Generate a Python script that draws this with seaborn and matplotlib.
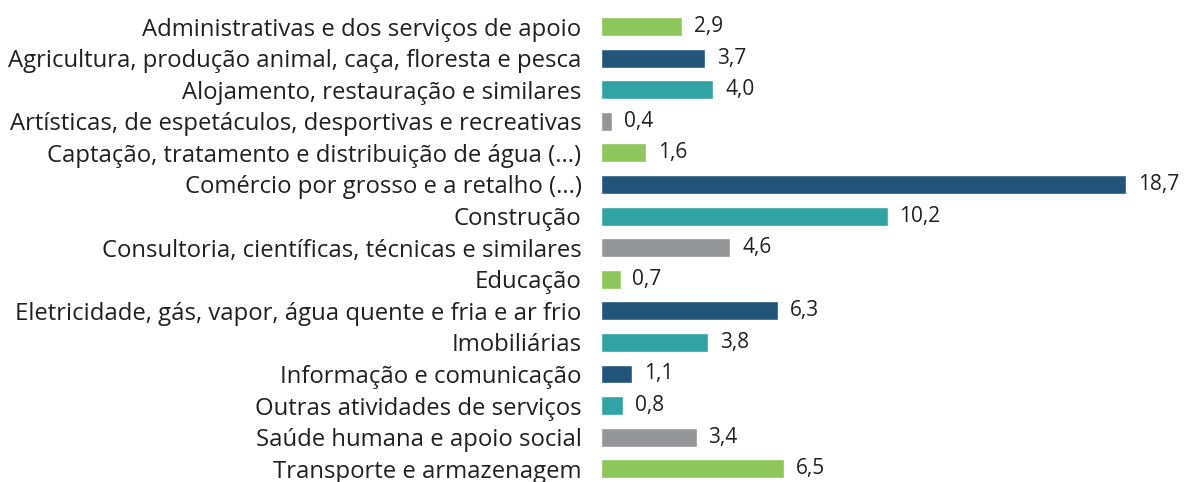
import pandas as pd
import matplotlib.pyplot as plt
import seaborn as sns

# categories and values (%)
categorias = [
    "Administrativas e dos serviços de apoio",
    "Agricultura, produção animal, caça, floresta e pesca",
    "Alojamento, restauração e similares",
    "Artísticas, de espetáculos, desportivas e recreativas",
    "Captação, tratamento e distribuição de água (...)",
    "Comércio por grosso e a retalho (...)",
    "Construção",
    "Consultoria, científicas, técnicas e similares",
    "Educação",
    "Eletricidade, gás, vapor, água quente e fria e ar frio",
    "Imobiliárias",
    "Informação e comunicação",
    "Outras atividades de serviços",
    "Saúde humana e apoio social",
    "Transporte e armazenagem",
]
valores = [2.9, 3.7, 4.0, 0.4, 1.6, 18.7, 10.2, 4.6, 0.7, 6.3, 3.8, 1.1, 0.8, 3.4, 6.5]

verde = "#8DC75B"
azul = "#22557A"
turquesa = "#31A3A5"
cinza = "#939598"
cores = [verde, azul, turquesa, cinza, verde, azul, turquesa, cinza,
         verde, azul, turquesa, azul, turquesa, cinza, verde]

df = pd.DataFrame({"cat": categorias, "val": valores})

sns.set_style("white")
plt.rcParams['font.family'] = ['Open Sans', 'DejaVu Sans']

fig = plt.figure(figsize=(11.84, 4.82), dpi=100)
ax = fig.add_axes([601 / 1184, 0, (1170 - 601) / 1184, 1])

sns.barplot(data=df, x="val", y="cat", hue="cat", palette=cores,
            legend=False, width=0.6, ax=ax, saturation=1)

for i, v in enumerate(valores):
    ax.text(v + 0.42, i, f"{v:.1f}".replace(".", ","), va="center",
            ha="left", fontsize=15, color="#231F20")

ax.set_xlim(0, 20.25)
ax.set_ylim(14.42, -0.84)
ax.set_xlabel("")
ax.set_ylabel("")
ax.set_xticks([])
ax.tick_params(axis="y", length=0, pad=14, labelsize=17.2, labelcolor="#231F20")
sns.despine(ax=ax, left=True, bottom=True)

fig.savefig("out.png", dpi=100)
